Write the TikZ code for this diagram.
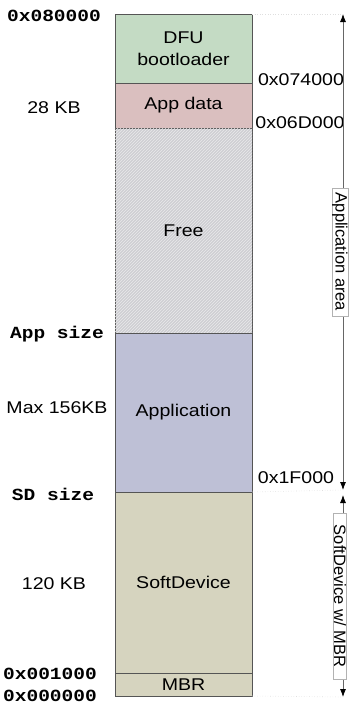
\documentclass[tikz,border=0pt]{standalone}
\usepackage{fontspec}
\setmainfont[FakeStretch=1.15]{Liberation Sans}
\setmonofont[FakeStretch=1.15]{Liberation Mono}
\newfontfamily\sidefont{Liberation Sans}
\usetikzlibrary{arrows.meta,patterns,positioning,calc}

\definecolor{edgegray}{RGB}{85,85,85}
\definecolor{dfugreen}{RGB}{196,219,196}
\definecolor{datapink}{RGB}{218,191,191}
\definecolor{freegray}{RGB}{206,206,211}
\definecolor{applilac}{RGB}{190,192,214}
\definecolor{sdkhaki}{RGB}{214,212,191}

\begin{document}
\begin{tikzpicture}
  [x=1pt,y=-1pt,
   every node/.style={font=\fontsize{17}{22}\selectfont},
   block/.style={draw=edgegray,line width=0.9pt,minimum width=137pt,inner sep=0pt,outer sep=0pt,align=center},
   addr/.style={font=\ttfamily\bfseries\fontsize{17}{17}\selectfont},
   size/.style={font=\fontsize{17}{17}\selectfont},
   span/.style={draw=gray!80!black,line width=0.8pt,{Latex[length=8pt,width=6pt,color=black]}-{Latex[length=8pt,width=6pt,color=black]}},
   sidelabel/.style={fill=white,draw=gray!60,line width=0.5pt,rotate=-90,inner xsep=5pt,inner ysep=0.5pt,font=\sidefont\fontsize{16.5}{16.5}\selectfont},
   guide/.style={draw=gray!25,dotted,line width=0.6pt}]
  \useasboundingbox (0,0) rectangle (350,705);

  % memory blocks, top to bottom
  \node[block,fill=dfugreen,minimum height=69pt] (dfu) at (183.5,48.5) {DFU\\bootloader};
  \node[block,fill=datapink,minimum height=45pt,below=0pt of dfu] (appdata) {App data};
  \node[block,fill=freegray,minimum height=205pt,below=0pt of appdata,
        postaction={pattern=north east lines,pattern color=white!55!freegray}] (free) {};
  \node at (free) {Free};
  \node[block,fill=applilac,minimum height=159pt,below=0pt of free] (app) {Application};
  \node[block,fill=sdkhaki,minimum height=181pt,below=0pt of app] (sd) {SoftDevice};
  \node[block,fill=sdkhaki,minimum height=23pt,below=0pt of sd] (mbr) {MBR};

  % addresses and sizes on the left
  \node[addr] (a80) at (54,16) {0x080000};
  \node[size] (s28) at (54,108) {28 KB};
  \node[addr] (appsz) at (57,334) {App size};
  \node[size] (s156) at (57,408) {Max 156KB};
  \node[addr] (sdsz) at (53,494) {SD size};
  \node[size] (s120) at (54,584) {120 KB};
  \node[addr] (a01) at (50,674) {0x001000};
  \node[addr] (a00) at (50,696) {0x000000};

  % addresses on the right
  \node (a74) at (301,80) {0x074000};
  \node (a6d) at (300,123) {0x06D000};
  \node (a1f) at (296,478) {0x1F000};

  % area arrows
  \coordinate (apptop) at (343,14);
  \coordinate (append) at (343,490);
  \coordinate (sdtop) at (343,495);
  \coordinate (sdend) at (343,697);
  \draw[guide] (dfu.north east) -- (apptop);
  \draw[guide] (app.south east) -- (append);
  \draw[guide] (mbr.south east) -- (sdend);
  \draw[span] (apptop) -- (append);
  \draw[span] (sdtop) -- (sdend);
  \node[sidelabel] (applbl) at ($(apptop)!0.5!(append)+(-3,0)$) {Application area};
  \node[sidelabel,minimum width=166pt] (sdlbl) at ($(sdtop)!0.5!(sdend)+(-3,0)$) {SoftDevice w/ MBR};
\end{tikzpicture}
\end{document}
